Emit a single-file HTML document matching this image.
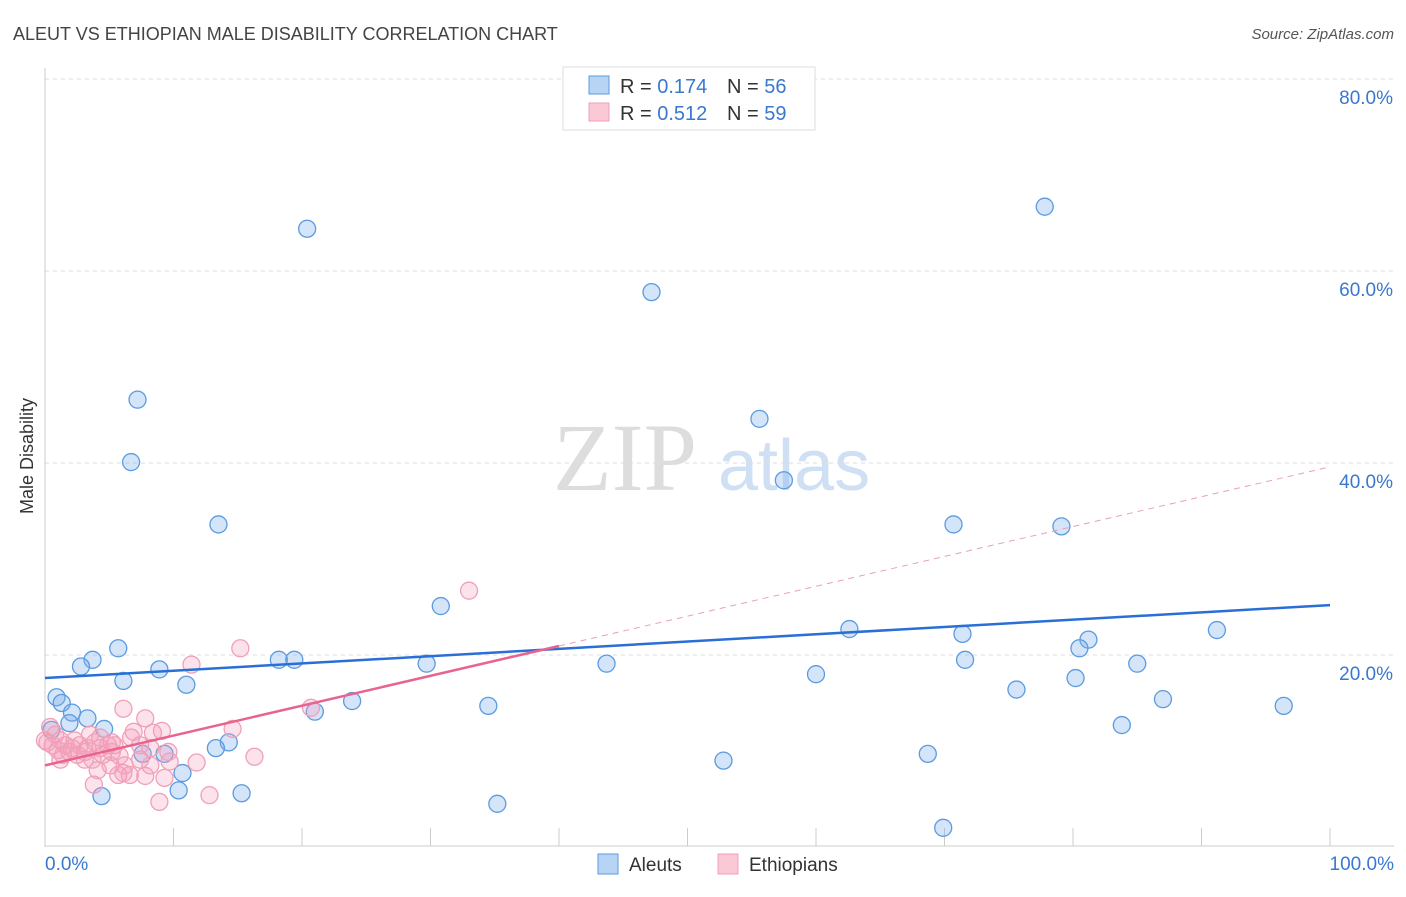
<!DOCTYPE html>
<html><head><meta charset="utf-8"><style>
body{margin:0;background:#fff;font-family:"Liberation Sans",sans-serif;}
</style></head><body>
<svg width="1406" height="892" xmlns="http://www.w3.org/2000/svg" id="svg" font-family="Liberation Sans, sans-serif">
<text x="13" y="40" font-size="18" fill="#444">ALEUT VS ETHIOPIAN MALE DISABILITY CORRELATION CHART</text>
<text x="1394" y="39" font-size="15" fill="#555" font-style="italic" text-anchor="end">Source: ZipAtlas.com</text>
<text transform="translate(33,456) rotate(-90)" font-size="18" fill="#333" text-anchor="middle">Male Disability</text>
<g><text x="553" y="490" font-size="96" fill="#ddd" font-family="Liberation Serif, serif">ZIP</text><text x="718" y="490" font-size="72" fill="#d0e0f4">atlas</text></g>
<g id="grid"></g><g id="axes"></g><g id="pts"></g><g id="lines"></g>
<g>
<rect x="563" y="67" width="252" height="63" fill="#fff" stroke="#ddd"/>
<rect x="589" y="76" width="20" height="18" fill="#b8d4f5" stroke="#5b9be0"/>
<text x="620" y="93" font-size="20" fill="#333">R = <tspan fill="#3a78d0">0.174</tspan></text>
<text x="727" y="93" font-size="20" fill="#333">N = <tspan fill="#3a78d0">56</tspan></text>
<rect x="589" y="103" width="20" height="18" fill="#fbc8d6" stroke="#f0a0b8"/>
<text x="620" y="120" font-size="20" fill="#333">R = <tspan fill="#3a78d0">0.512</tspan></text>
<text x="727" y="120" font-size="20" fill="#333">N = <tspan fill="#3a78d0">59</tspan></text>
</g>
<g>
<rect x="598" y="854" width="20" height="20" fill="#b8d4f5" stroke="#5b9be0"/><text x="629" y="871" font-size="19" fill="#333">Aleuts</text>
<rect x="718" y="854" width="20" height="20" fill="#fbc8d6" stroke="#f0a0b8"/><text x="749" y="871" font-size="19" fill="#333">Ethiopians</text>
</g>
</svg>
<script>
const blueX=[20.4,77.8,47.2,7.2,6.7,55.6,57.5,13.5,70.7,79.1,30.8,62.6,71.4,91.2,81.2,80.5,5.7,3.7,2.8,8.9,18.2,19.4,29.7,43.7,71.6,85.0,6.1,11.0,60.0,80.2,0.9,1.3,2.1,3.3,1.9,4.6,75.6,87.0,23.9,34.5,21.0,96.4,83.8,14.3,13.3,7.6,9.3,68.7,52.8,10.7,10.4,15.3,4.4,35.2,69.9,0.5];
const blueY=[64.4,66.7,57.8,46.6,40.1,44.6,38.2,33.6,33.6,33.4,25.1,22.7,22.2,22.6,21.6,20.7,20.7,19.5,18.8,18.5,19.5,19.5,19.1,19.1,19.5,19.1,17.3,16.9,18.0,17.6,15.6,15.0,14.0,13.4,12.9,12.3,16.4,15.4,15.2,14.7,14.1,14.7,12.7,10.9,10.3,9.7,9.7,9.7,9.0,7.7,5.9,5.6,5.3,4.5,2.0,12.2];
const pinkX=[33.0,15.2,11.4,20.7,6.1,7.8,14.6,6.9,8.4,9.1,0.4,0.8,1.2,0.2,1.6,2.1,2.7,3.3,3.9,4.3,4.9,5.2,5.8,4.5,3.1,1.9,1.0,1.4,2.5,3.7,5.1,6.2,7.4,8.2,9.7,11.8,16.3,6.6,5.7,7.8,6.1,9.3,3.8,8.9,12.8,0.6,0,4.3,5.4,2.3,3.1,9.6,6.7,7.4,4.1,5.2,1.2,3.5,8.2];
const pinkY=[26.7,20.7,19.0,14.5,14.4,13.4,12.3,12.0,11.9,12.1,12.5,11.7,11.1,10.9,10.6,10.3,10.6,10.3,10.9,10.3,10.6,9.9,9.5,9.6,9.9,9.9,10.1,9.6,9.6,9.1,8.5,8.5,9.1,8.5,8.9,8.8,9.4,7.5,7.5,7.4,7.7,7.2,6.5,4.7,5.4,10.6,11.1,11.4,10.6,11.1,9.1,9.9,11.4,10.6,8.0,10.9,9.1,11.7,10.3];
const blueTrend=[17.6,25.2];
const pinkTrend=[8.5,39.6];
const pinkSolidEnd=40;
const yTicks=[20,40,60,80];
const xTicks=[0,10,20,30,40,50,60,70,80,90,100];
const NS='http://www.w3.org/2000/svg';
const sx=v=>45+v*12.85, sy=v=>847-v*9.6;
function mk(p,t,a){const e=document.createElementNS(NS,t);for(const k in a)e.setAttribute(k,a[k]);document.getElementById(p).appendChild(e);return e;}
yTicks.forEach(t=>{
 const g=mk('grid','line',{x1:45,x2:1394,y1:sy(t),y2:sy(t),stroke:'#ddd','stroke-dasharray':'4,4'});
 
 
 const l=mk('grid','text',{x:1393,y:sy(t)+25,'font-size':19,fill:'#3a78d0','text-anchor':'end'});
 l.textContent=t.toFixed(1)+'%';
 
 
});
const ax=mk('axes','line',{x1:45,x2:45,y1:68,y2:847,stroke:'#ccc'});


const bx=mk('axes','line',{x1:45,x2:1394,y1:846,y2:846,stroke:'#ccc'});


xTicks.forEach(t=>{const e=mk('axes','line',{x1:sx(t),x2:sx(t),y1:828,y2:846,stroke:'#ccc'});
 
 });
[[0,'0.0%','start',45],[100,'100.0%','end',1394]].forEach(([v,s,a,x])=>{const e=mk('axes','text',{x:x,y:870,'font-size':19,fill:'#3a78d0','text-anchor':a});e.textContent=s;
 
 });
blueX.forEach((x,i)=>{const c=mk('pts','circle',{cx:sx(x),cy:sy(blueY[i]),r:8.5,fill:'rgba(120,170,235,0.32)',stroke:'#5b9be0','stroke-width':1.3});
 
 });
pinkX.forEach((x,i)=>{const c=mk('pts','circle',{cx:sx(x),cy:sy(pinkY[i]),r:8.5,fill:'rgba(245,160,190,0.3)',stroke:'#f0a0b8','stroke-width':1.3});
 
 });
const pf=x=>pinkTrend[0]+(pinkTrend[1]-pinkTrend[0])*x/100;
const l1=mk('lines','line',{x1:sx(0),y1:sy(blueTrend[0]),x2:sx(100),y2:sy(blueTrend[1]),stroke:'#2a6fd6','stroke-width':2.5});


const l2=mk('lines','line',{x1:sx(0),y1:sy(pf(0)),x2:sx(pinkSolidEnd),y2:sy(pf(pinkSolidEnd)),stroke:'#e8648e','stroke-width':2.5});


const l3=mk('lines','line',{x1:sx(pinkSolidEnd),y1:sy(pf(pinkSolidEnd)),x2:sx(100),y2:sy(pf(100)),stroke:'#e8a0b8','stroke-width':1,'stroke-dasharray':'6,5'});


</script>
</body></html>
